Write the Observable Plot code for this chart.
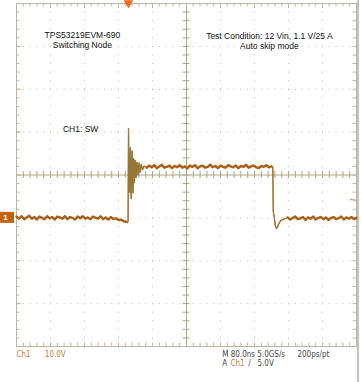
<!DOCTYPE html>
<html><head><meta charset="utf-8">
<script src="https://cdn.jsdelivr.net/npm/d3@7"></script>
<script src="https://cdn.jsdelivr.net/npm/@observablehq/plot@0.6"></script>
<style>
html,body{margin:0;padding:0;background:#fff;}
#chart{width:362px;height:382px;overflow:hidden;}
</style></head><body><div id="chart"></div>
<script>
// ---- Channel 1 (SW node) samples: time in ns from left edge, volts ----
const preEdgeNs = [0,6,12,18,24,30,36,42,48,54,60,66,72,78,84,90,96,102,108,114,120,126,132,138,144,150,156,162,168,174,180,186,192,198,204,210,216,222,228,234,240,246,252,258];
const preEdgeV  = [0.3,-0.2,0.4,-0.3,0.1,0.5,-0.2,0.2,-0.4,0.3,0.0,-0.3,0.4,-0.1,0.2,-0.4,0.3,0.1,-0.2,0.4,-0.3,0.2,0.0,-0.4,0.3,-0.1,0.4,-0.2,0.1,-0.3,0.3,0.0,-0.2,0.4,-0.3,0.1,-0.4,0.2,-0.3,-0.1,-0.5,-0.4,-0.8,-0.9];
const ringNs = [258,261,262.6,263.6,264.4,266.2,268.0,269.8,272.0,274.2,275.6,277.4,279.2,281.2,283.4,285.8,288.4,290.8,293.6,296.6,300,306];
const ringV  = [-0.9,-1.1,-0.8,20.8,14.0,6.0,16.4,4.5,15.6,5.8,13.8,8.2,13.4,9.4,13.0,10.0,12.8,10.6,12.5,11.2,12.1,11.7];
const highNs = [306,312,318,324,330,336,342,348,354,360,366,372,378,384,390,396,402,408,414,420,426,432,438,444,450,456,462,468,474,480,486,492,498,504,510,516,522,528,534,540,546,552,558,564,570,576,582,588,594,600];
const highV  = [11.7,12.2,11.8,12.3,11.6,12.0,12.4,11.7,11.9,12.2,11.6,12.1,11.8,12.3,11.7,12.0,11.5,12.2,11.9,12.3,11.6,12.0,12.2,11.7,11.9,12.4,11.8,12.1,11.6,12.2,11.9,11.7,12.3,12.0,11.8,12.2,11.6,12.1,11.9,12.4,11.7,12.0,12.2,11.8,11.6,12.1,11.9,12.3,11.8,12.0];
const fallNs = [600,603,604.2,606,609,611.8,614,617,621,626,632,638];
const fallV  = [12.0,11.9,1.4,0.5,-1.8,-2.5,-2.1,-1.4,-0.7,-0.4,-0.2,0.1];
const postNs = [638,644,650,656,662,668,674,680,686,692,698,704,710,716,722,728,734,740,746,752,758,764,770,776,782,788,794,800];
const postV  = [0.1,-0.4,0.0,0.3,-0.3,-0.1,0.2,-0.5,0.1,-0.2,0.3,-0.4,0.0,0.2,-0.3,0.1,-0.5,0.0,0.2,-0.3,-0.1,0.3,-0.4,0.1,-0.2,0.2,-0.3,0.0];

// ---- scope settings / labels ----
const timeDomainNs = [0, 800];      // 10 div x 80 ns
const voltDomain = [-30, 50];       // 8 div x 10 V, ground 1 div below centre
const divNs = [0,80,160,240,320,400,480,560,640,720,800];
const divV = [-30,-20,-10,0,10,20,30,40,50];
const centerNs = 400, centerV = 10;
const triggerNs = 263.5, triggerV = 5.0;
const titleLeft = "TPS53219EVM-690\nSwitching Node";
const titleRight = "Test Condition: 12 Vin, 1.1 V/25 A\nAuto skip mode";
const channelLabel = "CH1: SW";
const readout1 = ["Ch1", "10.0V", "M 80.0ns 5.0GS/s", "200ps/pt"];
const readout2 = ["A", "Ch1", "/", "5.0V"];

const toRows = (seg, ts, vs) => ts.map((t, i) => ({seg, t, v: vs[i]}));
const flat = [...toRows("pre", preEdgeNs, preEdgeV), ...toRows("high", highNs, highV), ...toRows("post", postNs, postV)];
const edges = [...toRows("ring", ringNs, ringV), ...toRows("fall", fallNs, fallV)];

const minorNs = d3.range(0, 800.01, 16);
const minorV = d3.range(-30, 50.01, 2);
const gridNs = divNs.filter(d => d !== 0 && d !== 800 && d !== centerNs);
const gridV = divV.filter(d => d !== -30 && d !== 50 && d !== centerV);

const ORANGE = "#b65c12", OLIVE = "#8a8244", FRAME = "#bcb79c", AXIS = "#aba586", DOTC = "#b4b4b4";
const CHC = "#c87a30", DARK = "#444";
const NARROW = "'Liberation Sans Narrow','DejaVu Sans Condensed',sans-serif";

const chart = Plot.plot({
  width: 362, height: 382,
  marginLeft: 16, marginRight: 6, marginTop: 3, marginBottom: 36,
  x: {domain: timeDomainNs, axis: null},
  y: {domain: voltDomain, axis: null},
  style: {fontFamily: "'Liberation Sans', Arial, sans-serif", background: "#fff", overflow: "visible"},
  marks: [
    // dotted division grid
    Plot.ruleX(gridNs, {stroke: DOTC, strokeDasharray: "1 7.575"}),
    Plot.ruleY(gridV, {stroke: DOTC, strokeDasharray: "1 5.8"}),
    // centre axes with ticks
    Plot.ruleX([centerNs], {stroke: AXIS}),
    Plot.ruleY([centerV], {stroke: AXIS}),
    Plot.ruleX(minorNs, {y1: centerV, y2: centerV, insetTop: -3.5, insetBottom: -3.5, stroke: AXIS}),
    Plot.ruleY(minorV, {x1: centerNs, x2: centerNs, insetLeft: -3.5, insetRight: -3.5, stroke: AXIS}),
    // edge ticks
    Plot.ruleX(minorNs, {y1: voltDomain[1], y2: voltDomain[1], insetBottom: -3.5, stroke: FRAME}),
    Plot.ruleX(minorNs, {y1: voltDomain[0], y2: voltDomain[0], insetTop: -3.5, stroke: FRAME}),
    Plot.ruleY(minorV, {x1: timeDomainNs[0], x2: timeDomainNs[0], insetRight: -3.5, stroke: FRAME}),
    Plot.ruleY(minorV, {x1: timeDomainNs[1], x2: timeDomainNs[1], insetLeft: -3.5, stroke: FRAME}),
    Plot.ruleX(divNs, {y1: voltDomain[1], y2: voltDomain[1], insetBottom: -5, stroke: FRAME}),
    Plot.ruleY(divV, {x1: timeDomainNs[0], x2: timeDomainNs[0], insetRight: -5, stroke: FRAME}),
    Plot.frame({stroke: FRAME}),
    Plot.ruleX([timeDomainNs[1]], {dx: 1.5, insetTop: -3, insetBottom: -36, stroke: "#9a9a9a", strokeWidth: 1.2}),
    // text
    Plot.text([titleLeft], {x: 155, y: 41.6, fontSize: 8.5, fill: "#111", lineHeight: 1.18}),
    Plot.text([titleRight], {x: 595, y: 41.4, fontSize: 8.5, fill: "#111", lineHeight: 1.18}),
    Plot.text([channelLabel], {x: 151, y: 20.7, fontSize: 8.5, fill: "#111"}),
    // waveform
    Plot.line(flat, {x: "t", y: "v", z: "seg", stroke: ORANGE, strokeWidth: 2.4, strokeLinejoin: "round"}),
    Plot.line(flat, {x: "t", y: "v", z: "seg", stroke: "#7a6a2a", strokeWidth: 0.7, strokeOpacity: 0.6}),
    Plot.line(edges, {x: "t", y: "v", z: "seg", stroke: ORANGE, strokeWidth: 1.3, strokeLinejoin: "round"}),
    Plot.line(edges, {x: "t", y: "v", z: "seg", stroke: OLIVE, strokeWidth: 0.9, strokeOpacity: 0.9}),
    // ground marker "1"
    Plot.rect([0], {x1: timeDomainNs[0], x2: timeDomainNs[0], y1: 0, y2: 0, insetLeft: -16, insetRight: 2, insetTop: -5.5, insetBottom: -5.5, fill: "#c0620e"}),
    Plot.text(["1"], {x: timeDomainNs[0], y: 0, dx: -11, fontSize: 8, fill: "#fff", fontWeight: "bold"}),
    // trigger markers
    Plot.dot([triggerNs], {x: d => d, y: voltDomain[1], dy: -0.5, symbol: "triangle", rotate: 180, r: 3.6, fill: "#f26a1b"}),
    Plot.text(["←"], {x: timeDomainNs[1], y: triggerV, dx: -4, dy: 2, fontSize: 9, fill: "#d06a20", textAnchor: "middle"}),
    // readout
    Plot.text([readout1[0]], {x: 0, frameAnchor: "bottom", dy: 10, textAnchor: "start", fontSize: 8, fill: CHC, fontFamily: NARROW}),
    Plot.text([readout1[1]], {x: 66.6, frameAnchor: "bottom", dy: 10, textAnchor: "start", fontSize: 8, fill: CHC, fontFamily: NARROW}),
    Plot.text([readout1[2]], {x: 484, frameAnchor: "bottom", dy: 10, textAnchor: "start", fontSize: 8, fill: DARK, fontFamily: NARROW}),
    Plot.text([readout1[3]], {x: 661, frameAnchor: "bottom", dy: 10, textAnchor: "start", fontSize: 8, fill: DARK, fontFamily: NARROW}),
    Plot.text([readout2[0]], {x: 484, frameAnchor: "bottom", dy: 19, textAnchor: "start", fontSize: 8, fill: DARK, fontFamily: NARROW}),
    Plot.text([readout2[1]], {x: 503.5, frameAnchor: "bottom", dy: 19, textAnchor: "start", fontSize: 8, fill: CHC, fontFamily: NARROW}),
    Plot.text([readout2[2]], {x: 545, frameAnchor: "bottom", dy: 19, textAnchor: "start", fontSize: 8, fill: DARK, fontFamily: NARROW}),
    Plot.text([readout2[3]], {x: 567, frameAnchor: "bottom", dy: 19, textAnchor: "start", fontSize: 8, fill: DARK, fontFamily: NARROW})
  ]
});
document.getElementById("chart").appendChild(chart);
</script></body></html>
